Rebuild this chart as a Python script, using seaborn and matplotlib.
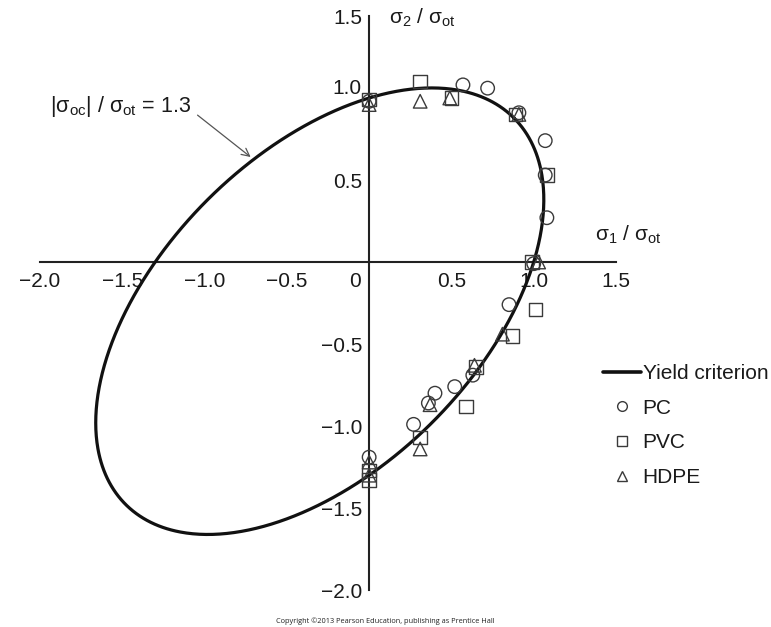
import numpy as np
import pandas as pd
import matplotlib
matplotlib.use("Agg")
import matplotlib.pyplot as plt
from matplotlib.lines import Line2D
import seaborn as sns

# Yield criterion parameter: |sigma_oc| / sigma_ot
m_ratio = 1.3

# Normalised yield stresses (sigma_1 / sigma_ot, sigma_2 / sigma_ot)
pc_x = [0.0, 0.57, 0.72, 0.91, 1.07, 1.07, 1.08, 1.00, 0.85, 0.63, 0.52, 0.40, 0.36, 0.27, 0.0]
pc_y = [0.98, 1.08, 1.06, 0.91, 0.74, 0.53, 0.27, -0.01, -0.26, -0.69, -0.76, -0.80, -0.86, -0.99, -1.19]

pvc_x = [0.0, 0.31, 0.50, 0.89, 1.08, 0.99, 1.01, 0.87, 0.65, 0.59, 0.31, 0.0, 0.0]
pvc_y = [0.99, 1.10, 1.00, 0.90, 0.53, 0.0, -0.29, -0.45, -0.64, -0.88, -1.07, -1.27, -1.33]

hdpe_x = [0.0, 0.31, 0.49, 0.91, 1.03, 0.81, 0.64, 0.37, 0.31, 0.0, 0.0]
hdpe_y = [0.96, 0.98, 1.00, 0.90, 0.0, -0.44, -0.63, -0.87, -1.14, -1.22, -1.30]

materials = ["PC", "PVC", "HDPE"]
marker_map = {"PC": "o", "PVC": "s", "HDPE": "^"}

x_ticks = [-2.0, -1.5, -1.0, -0.5, 0.0, 0.5, 1.0, 1.5]
x_tick_labels = ["\u22122.0", "\u22121.5", "\u22121.0", "\u22120.5", "", "0.5", "1.0", "1.5"]
y_ticks = [-2.0, -1.5, -1.0, -0.5, 0.0, 0.5, 1.0, 1.5]
y_tick_labels = ["\u22122.0", "\u22121.5", "\u22121.0", "\u22120.5", "", "0.5", "", "1.5"]

points = pd.DataFrame({
    "s1": pc_x + pvc_x + hdpe_x,
    "s2": pc_y + pvc_y + hdpe_y,
    "material": ["PC"] * len(pc_x) + ["PVC"] * len(pvc_x) + ["HDPE"] * len(hdpe_x),
})

# Pressure-modified von Mises criterion:
# s1^2 + s2^2 - s1*s2 + (m-1)(s1+s2) = m  -> an ellipse in rotated coordinates
t = np.linspace(0, 2 * np.pi, 721)
a = np.sqrt(2 * (m_ratio + (m_ratio - 1) ** 2))
b = np.sqrt((m_ratio + (m_ratio - 1) ** 2) / 1.5)
u = -(m_ratio - 1) * np.sqrt(2) + a * np.cos(t)
v = b * np.sin(t)
curve = pd.DataFrame({"s1": (u + v) / np.sqrt(2), "s2": (u - v) / np.sqrt(2)})

sns.set_style("white")
plt.rcParams["font.family"] = ["Liberation Sans", "DejaVu Sans"]
plt.rcParams["mathtext.fontset"] = "custom"
plt.rcParams["mathtext.rm"] = "Liberation Sans"
plt.rcParams["mathtext.it"] = "Liberation Sans"

ink = "#1a1a1a"
fig = plt.figure(figsize=(7.71, 6.27), dpi=100)
ax = fig.add_axes([40 / 771, 37 / 627, 576 / 771, 574 / 627])

sns.lineplot(data=curve, x="s1", y="s2", sort=False, estimator=None,
             color="#111111", linewidth=2.3, ax=ax, legend=False, zorder=3)
sns.scatterplot(data=points, x="s1", y="s2", style="material", markers=marker_map,
                style_order=materials, s=95, facecolor="none", edgecolor="#3a3a3a",
                linewidth=1.0, ax=ax, legend=False, zorder=4, clip_on=False)

ax.set_xlim(-2.0, 1.5)
ax.set_ylim(-2.0, 1.5)
ax.set_xlabel("")
ax.set_ylabel("")

for side in ("top", "right"):
    ax.spines[side].set_visible(False)
for side in ("left", "bottom"):
    ax.spines[side].set_position(("data", 0))
    ax.spines[side].set_linewidth(1.5)
    ax.spines[side].set_color("#222222")

ax.set_xticks(x_ticks)
ax.set_xticklabels(x_tick_labels)
ax.set_yticks(y_ticks)
ax.set_yticklabels(y_tick_labels)
ax.set_xticks(np.arange(-1.75, 1.5, 0.5), minor=True)
ax.set_yticks(np.arange(-1.75, 1.5, 0.5), minor=True)
ax.tick_params(which="both", direction="in", length=4.5, width=1.4, color="#222222")
ax.tick_params(axis="x", which="major", pad=7, labelsize=15, labelcolor=ink)
ax.tick_params(axis="y", which="major", pad=5, labelsize=15, labelcolor=ink)

# Shared origin label, set to the left of the vertical axis
ax.annotate("0", xy=(0, 0), xytext=(-6, -7), textcoords="offset points",
            ha="right", va="top", fontsize=15, color=ink)
# The 1.0 label sits slightly above its tick, clear of the data markers
ax.annotate("1.0", xy=(0, 1.0), xytext=(-5.5, 6.5), textcoords="offset points",
            ha="right", va="center", fontsize=15, color=ink)

ax.text(0.12, 1.49, "\u03c3$_2$ / \u03c3$_{\\mathrm{ot}}$", fontsize=15,
        ha="left", va="center", color=ink)
ax.text(1.37, 0.165, "\u03c3$_1$ / \u03c3$_{\\mathrm{ot}}$", fontsize=15,
        ha="left", va="center", color=ink, clip_on=False)

ax.annotate("|\u03c3$_{\\mathrm{oc}}$| / \u03c3$_{\\mathrm{ot}}$ = " + f"{m_ratio:.1f}",
            xy=(-0.72, 0.64), xytext=(-1.94, 0.95), textcoords="data",
            ha="left", va="center", fontsize=15.5, color=ink,
            arrowprops=dict(arrowstyle="->", color="#555555", lw=0.9,
                            shrinkA=3, shrinkB=0, relpos=(1.0, 0.35),
                            mutation_scale=14))

handles = [Line2D([], [], color="#111111", lw=2.6, label="Yield criterion")]
for mat in materials:
    handles.append(Line2D([], [], ls="none", marker=marker_map[mat], markersize=7,
                          mfc="none", mec="#3a3a3a", mew=1.0, label=mat))
fig.legend(handles=handles, loc="upper left", bbox_to_anchor=(603 / 771, 1 - 364 / 627),
           frameon=False, fontsize=15, handlelength=1.8, handletextpad=0.1,
           labelspacing=0.75, borderpad=0.0, borderaxespad=0.0, labelcolor=ink)

fig.text(385 / 771, 1 - 621 / 627,
         "Copyright \u00a92013 Pearson Education, publishing as Prentice Hall",
         ha="center", va="center", fontsize=5.3, family="Open Sans", color="#222222")

fig.savefig("out.png", dpi=100)
